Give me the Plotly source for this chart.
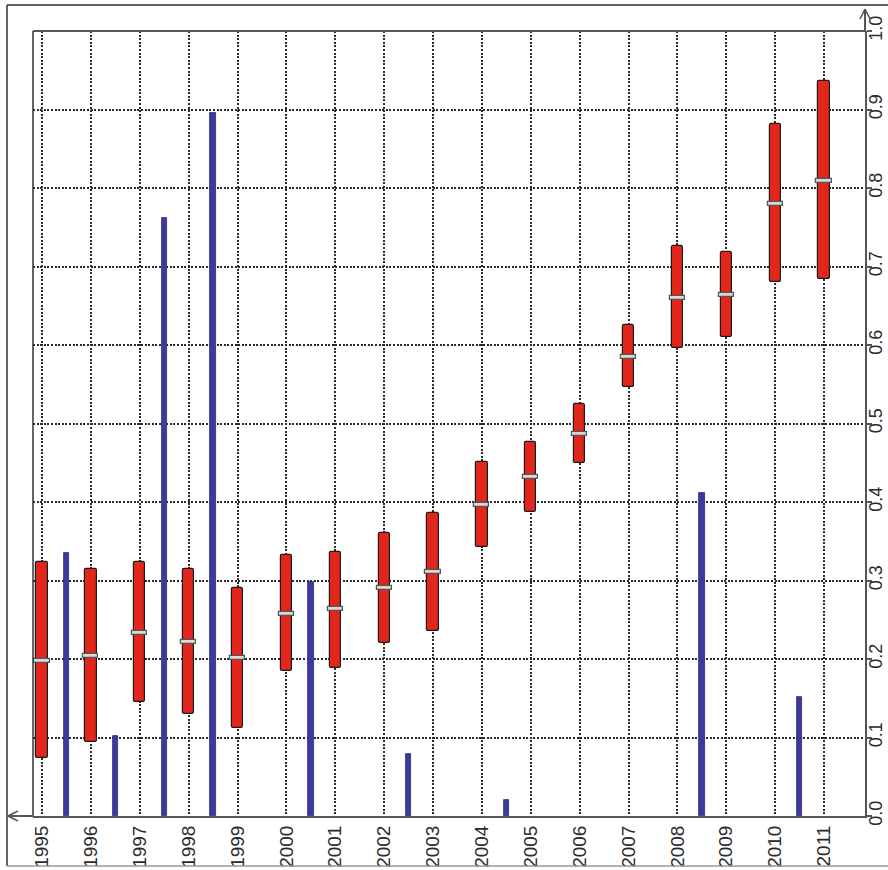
import plotly.graph_objects as go

# Yearly ranges (low / median / high) and interim values between years
years = list(range(1995, 2012))
year_labels = [str(y) for y in years]
low = [0.074, 0.094, 0.145, 0.130, 0.112, 0.185, 0.189, 0.220, 0.236,
       0.343, 0.387, 0.450, 0.547, 0.596, 0.610, 0.680, 0.684]
median = [0.197, 0.204, 0.233, 0.222, 0.201, 0.257, 0.264, 0.290, 0.311,
          0.396, 0.432, 0.487, 0.585, 0.660, 0.664, 0.780, 0.809]
high = [0.324, 0.315, 0.324, 0.315, 0.290, 0.333, 0.336, 0.360, 0.386,
        0.451, 0.476, 0.525, 0.625, 0.726, 0.718, 0.881, 0.936]

mid_positions = [1995.5, 1996.5, 1997.5, 1998.5, 2000.5, 2002.5, 2004.5, 2008.5, 2010.5]
mid_values = [0.335, 0.102, 0.762, 0.896, 0.298, 0.079, 0.020, 0.411, 0.152]

y_ticks = [round(0.1 * i, 1) for i in range(11)]
y_tick_labels = [f"{v:.1f}" for v in y_ticks]

W, H = 888, 870
L, R, T, B = 33, 865, 31, 816  # plot-area pixel box


def px(x):
    return (x - L) / (R - L)


def py(y):
    return (B - y) / (B - T)


fig = go.Figure()

# range bars
fig.add_trace(go.Bar(
    x=years, y=[h - l for h, l in zip(high, low)], base=low,
    width=0.23,
    marker=dict(color="#e3261c", line=dict(color="#1a1a1a", width=1.2),
                cornerradius=2),
    showlegend=False,
))

# median markers
med_h = 0.0052
fig.add_trace(go.Bar(
    x=years, y=[med_h] * len(years), base=[m - med_h / 2 for m in median],
    width=0.31,
    marker=dict(color="#d8d8d8", line=dict(color="#555555", width=1.2)),
    showlegend=False,
))

# interim bars
fig.add_trace(go.Bar(
    x=mid_positions, y=mid_values,
    width=0.11,
    marker=dict(color="#3b3b9c", line=dict(color="#2a2a80", width=0.8)),
    showlegend=False,
))

grid_dash = "2px,1.6px"

fig.update_layout(
    width=W, height=H,
    margin=dict(l=L, r=W - R, t=T, b=H - B, pad=0, autoexpand=False),
    paper_bgcolor="white", plot_bgcolor="white",
    barmode="overlay",
    bargap=0,
    font=dict(family="Liberation Sans, Arial, sans-serif", size=19, color="#2b2b2b"),
    xaxis=dict(
        range=[1995 - 9 / 48.875, 2011 + 41 / 48.875],
        tickmode="array", tickvals=years, ticktext=year_labels,
        tickangle=-90, automargin=False,
        showgrid=True, gridcolor="#2a2a2a", gridwidth=1.6, griddash=grid_dash,
        showline=True, linecolor="#555555", linewidth=2,
        zeroline=False, ticks="", fixedrange=True,
    ),
    yaxis=dict(
        range=[0, 1], side="right", automargin=False,
        tickmode="array", tickvals=y_ticks, ticktext=y_tick_labels,
        tickangle=-90, ticklabelstandoff=-12,
        tickfont=dict(size=18),
        showgrid=True, gridcolor="#2a2a2a", gridwidth=1.6, griddash=grid_dash,
        showline=True, linecolor="#555555", linewidth=2,
        ticks="outside", ticklen=5, tickwidth=1.5, tickcolor="#555555",
        zeroline=False, fixedrange=True,
    ),
)

axis_col = "#555555"
shapes = [
    # top frame and left frame of the plotting box
    dict(type="line", xref="paper", yref="paper", x0=0, x1=1, y0=1, y1=1,
         line=dict(color=axis_col, width=2)),
    dict(type="line", xref="paper", yref="paper", x0=0, x1=0, y0=0, y1=1,
         line=dict(color="#333333", width=1.5)),
    # axis extensions with open arrowheads
    dict(type="line", xref="paper", yref="paper", x0=px(8), x1=0, y0=0, y1=0,
         line=dict(color=axis_col, width=2)),
    dict(type="line", xref="paper", yref="paper", x0=px(8), x1=px(18), y0=py(816), y1=py(811),
         line=dict(color=axis_col, width=1.5)),
    dict(type="line", xref="paper", yref="paper", x0=px(8), x1=px(18), y0=py(816), y1=py(821),
         line=dict(color=axis_col, width=1.5)),
    dict(type="line", xref="paper", yref="paper", x0=1, x1=1, y0=1, y1=py(9),
         line=dict(color=axis_col, width=2)),
    dict(type="line", xref="paper", yref="paper", x0=1, x1=px(860), y0=py(9), y1=py(19),
         line=dict(color=axis_col, width=1.5)),
    dict(type="line", xref="paper", yref="paper", x0=1, x1=px(870), y0=py(9), y1=py(19),
         line=dict(color=axis_col, width=1.5)),
    # outer border
    dict(type="line", xref="paper", yref="paper", x0=px(7), x1=px(7), y0=py(5), y1=py(866),
         line=dict(color="#333333", width=1.5)),
    dict(type="line", xref="paper", yref="paper", x0=px(7), x1=px(888), y0=py(5), y1=py(5),
         line=dict(color="#333333", width=1.5)),
    dict(type="line", xref="paper", yref="paper", x0=px(7), x1=px(888), y0=py(866), y1=py(866),
         line=dict(color="#999999", width=1.5)),
]
fig.update_layout(shapes=shapes)

fig.write_html("out.html")
